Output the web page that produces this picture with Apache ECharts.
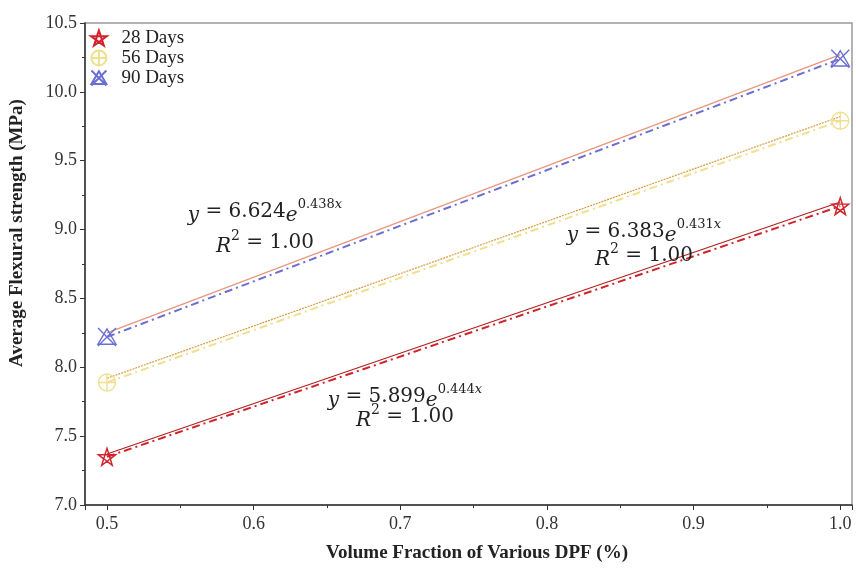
<!DOCTYPE html>
<html><head><meta charset="utf-8">
<script src="https://cdn.jsdelivr.net/npm/echarts@6/dist/echarts.min.js"></script>
<style>html,body{margin:0;padding:0;background:#fff}#c{width:856px;height:568px}</style>
</head><body><div id="c"></div>
<script>
const xValues = [0.5, 1.0];
const days28 = [7.35, 9.17];
const days56 = [7.89, 9.79];
const days90 = [8.22, 10.24];
const fit28 = [7.37, 9.20];
const fit56 = [7.92, 9.82];
const fit90 = [8.25, 10.27];
const seriesNames = ['28 Days', '56 Days', '90 Days'];
const eqs = [
  {coef:'6.624', exp:'0.438', x:265, y1:212, y2:243},
  {coef:'6.383', exp:'0.431', x:644, y1:232, y2:256},
  {coef:'5.899', exp:'0.444', x:405, y1:397, y2:417}
];

const starPath = 'path://M0 -10 L2.35 -3.24 L9.51 -3.09 L3.80 1.24 L5.88 8.09 L0 4 L-5.88 8.09 L-3.80 1.24 L-9.51 -3.09 L-2.35 -3.24 Z M0 -10 L5.88 8.09 L-9.51 -3.09 L9.51 -3.09 L-5.88 8.09 Z';
const circPlus = 'path://M0 -10 A10 10 0 1 1 0 10 A10 10 0 1 1 0 -10 Z M-10 0 L10 0 M0 -10 L0 10';
const triX = 'path://M-10 8 L0 -9 L10 8 Z M-10 -10 L10 10 M10 -10 L-10 10';

const colors = ['#d1232b', '#efe08e', '#6c6fd2'];
const fitColors = ['#b32020', '#d99a40', '#e8957d'];
const symbols = [starPath, circPlus, triX];
const dataSets = [days28, days56, days90];
const fitSets = [fit28, fit56, fit90];

const pairs = (ys) => xValues.map((x, i) => [x, ys[i]]);
const font = 'Liberation Serif';
const eqFont = 'DejaVu Serif';

const series = [];
for (let k = 0; k < 3; k++) {
  series.push({
    name: seriesNames[k] + ' fit', type: 'line', data: pairs(fitSets[k]),
    symbol: 'none', silent: true, z: 2,
    lineStyle: {color: fitColors[k], width: 1.2, type: k === 1 ? [2, 1] : 'solid'}
  });
}
for (let k = 0; k < 3; k++) {
  series.push({
    name: seriesNames[k], type: 'line', data: pairs(dataSets[k]),
    symbol: symbols[k], symbolSize: k === 2 ? 18 : 17, z: 3,
    itemStyle: {color: 'rgba(255,255,255,0)', borderColor: colors[k], borderWidth: 1.4},
    lineStyle: {color: colors[k], width: 2, type: [8, 4, 2, 4]}
  });
}

const graphics = [];
eqs.forEach(e => {
  graphics.push({
    type: 'text', x: e.x, y: e.y1, z: 10,
    style: {
      text: '{i|y} = ' + e.coef + '{i|e}{s|' + e.exp + '}{si|x}',
      align: 'center', verticalAlign: 'middle',
      font: '20px ' + eqFont, fill: '#222',
      rich: {
        i: {fontStyle: 'italic', fontSize: 20, fontFamily: eqFont, lineHeight: 28, verticalAlign: 'bottom'},
        s: {fontSize: 13, fontFamily: eqFont, lineHeight: 28, verticalAlign: 'top'},
        si: {fontSize: 13, fontStyle: 'italic', fontFamily: eqFont, lineHeight: 28, verticalAlign: 'top'}
      }
    }
  });
  graphics.push({
    type: 'text', x: e.x, y: e.y2, z: 10,
    style: {
      text: '{i|R}{s|2} = 1.00',
      align: 'center', verticalAlign: 'middle',
      font: '20px ' + eqFont, fill: '#222',
      rich: {
        i: {fontStyle: 'italic', fontSize: 20, fontFamily: eqFont, lineHeight: 28, verticalAlign: 'bottom'},
        s: {fontSize: 14, fontFamily: eqFont, lineHeight: 28, verticalAlign: 'top'}
      }
    }
  });
});
graphics.push({
  type: 'text', x: 477, y: 553, z: 10,
  style: {text: 'Volume Fraction of Various DPF (%)', align: 'center', verticalAlign: 'middle',
    font: 'bold 19px ' + font, fill: '#222'}
});
graphics.push({
  type: 'text', x: 17, y: 233, rotation: Math.PI / 2, z: 10,
  style: {text: 'Average Flexural strength (MPa)', align: 'center', verticalAlign: 'middle',
    font: 'bold 19px ' + font, fill: '#222'}
});

const chart = echarts.init(document.getElementById('c'));
chart.setOption({
  animation: false,
  backgroundColor: '#fff',
  grid: {left: 85, right: 4, top: 23, bottom: 63, show: true, borderColor: '#999', borderWidth: 1.5},
  legend: {
    orient: 'vertical', left: 85, top: 23, itemGap: 0, itemWidth: 17, itemHeight: 15,
    textStyle: {fontFamily: font, fontSize: 19, color: '#222', lineHeight: 20, padding: [0, 0, 0, 9]},
    data: seriesNames.map((n, k) => ({name: n, icon: symbols[k]}))
  },
  xAxis: {
    type: 'value', min: 0.485, max: 1.008,
    axisLine: {show: true, lineStyle: {color: '#333', width: 1.5}},
    axisTick: {show: true, length: 5, lineStyle: {color: '#333'}},
    minorTick: {show: true, splitNumber: 2, length: 3, lineStyle: {color: '#333'}},
    axisLabel: {fontFamily: font, fontSize: 18, color: '#333', margin: 10, showMinLabel: false, showMaxLabel: false,
      formatter: v => v.toFixed(1)},
    splitLine: {show: false}
  },
  yAxis: {
    type: 'value', min: 7, max: 10.5, interval: 0.5,
    axisLine: {show: true, lineStyle: {color: '#333', width: 1.5}},
    axisTick: {show: true, length: 5, lineStyle: {color: '#333'}},
    minorTick: {show: true, splitNumber: 2, length: 3, lineStyle: {color: '#333'}},
    axisLabel: {fontFamily: font, fontSize: 18, color: '#333', margin: 8, formatter: v => v.toFixed(1)},
    splitLine: {show: false}
  },
  series: series,
  graphic: graphics
});
</script></body></html>
